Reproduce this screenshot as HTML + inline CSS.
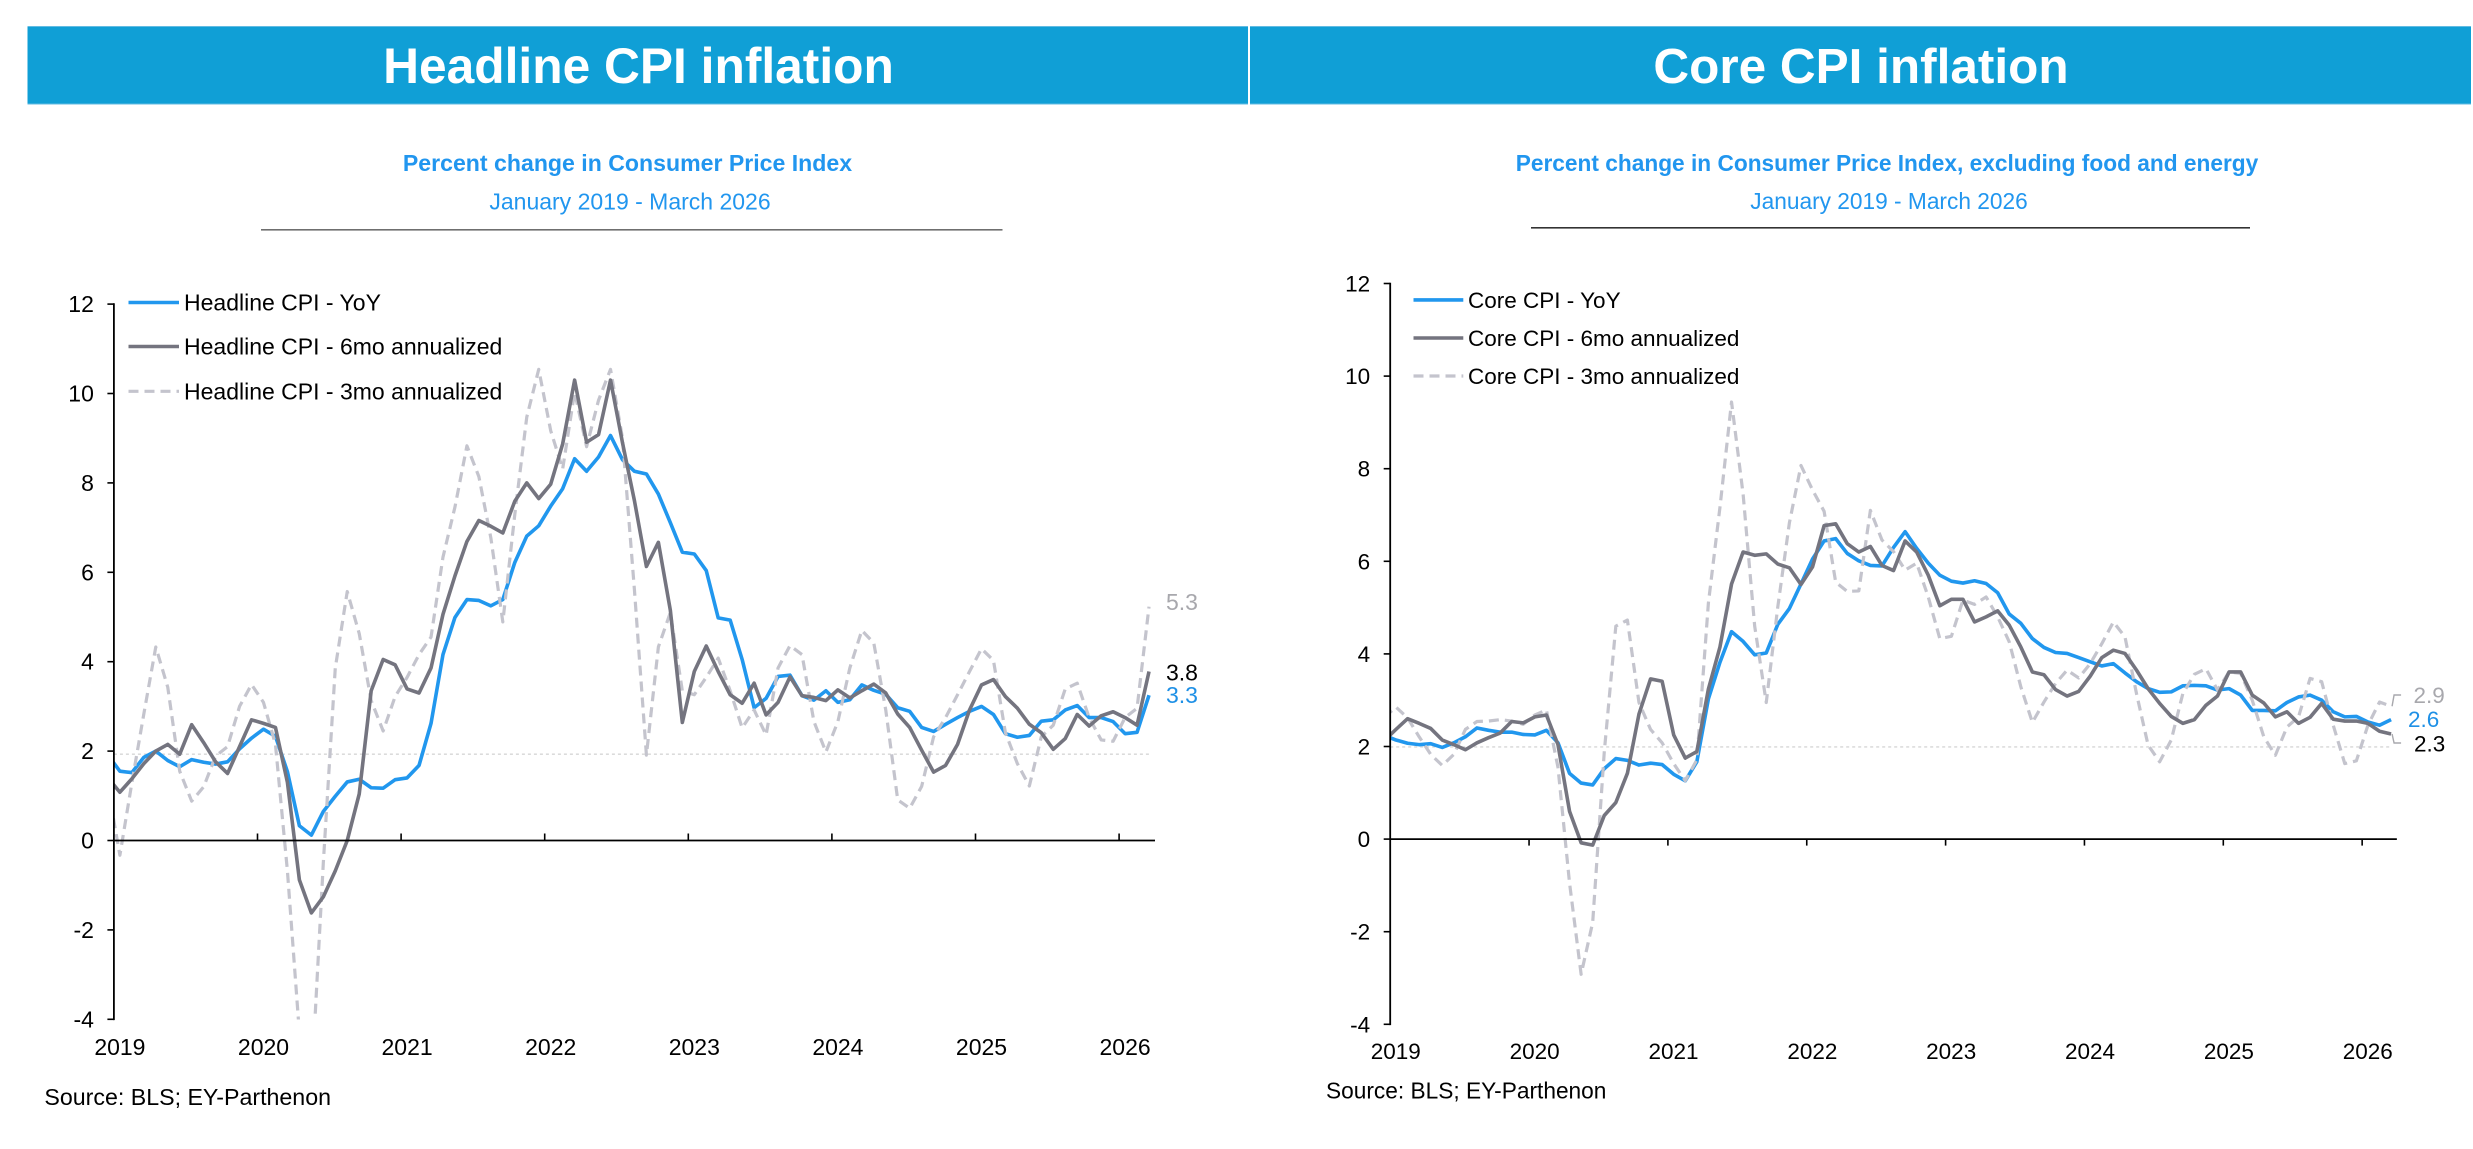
<!DOCTYPE html>
<html lang="en">
<head>
<meta charset="utf-8">
<title>Headline and Core CPI inflation</title>
<style>
html,body{margin:0;padding:0;background:#fff;width:2473px;height:1149px;overflow:hidden}
svg{display:block;font-family:"Liberation Sans",Arial,sans-serif}
</style>
</head>
<body>
<svg id="page" xmlns="http://www.w3.org/2000/svg" width="2473" height="1149" viewBox="0 0 2473 1149">
  <rect width="2473" height="1149" fill="#ffffff"/>

  <g>
    <rect x="27.5" y="26" width="1220.5" height="78.5" fill="#62bbe2"/>
    <rect x="27.5" y="27" width="1220.5" height="76.5" fill="#109fd6"/>
    <text x="638.5" y="83" text-anchor="middle" font-size="49.7" font-weight="700" fill="#ffffff">Headline CPI inflation</text>
  </g>
  <g>
    <rect x="1250" y="26" width="1221" height="78.5" fill="#62bbe2"/>
    <rect x="1250" y="27" width="1221" height="76.5" fill="#109fd6"/>
    <text x="1861" y="83" text-anchor="middle" font-size="49.5" font-weight="700" fill="#ffffff">Core CPI inflation</text>
  </g>

  <text x="627.5" y="171" text-anchor="middle" font-size="23.1" font-weight="700" fill="#2196ef">Percent change in Consumer Price Index</text>
  <text x="630" y="209.5" text-anchor="middle" font-size="23" fill="#2196ef">January 2019 - March 2026</text>
  <rect x="261" y="229" width="741.5" height="1.6" fill="#6f6f6f"/>

  <text x="1887" y="171" text-anchor="middle" font-size="22.7" font-weight="700" fill="#2196ef">Percent change in Consumer Price Index, excluding food and energy</text>
  <text x="1889" y="209" text-anchor="middle" font-size="22.7" fill="#2196ef">January 2019 - March 2026</text>
  <rect x="1531" y="227" width="719" height="1.6" fill="#333333"/>

  <defs>
    <clipPath id="clip-headline"><rect x="113.9" y="304" width="1041" height="715.5"/></clipPath>
    <clipPath id="clip-core"><rect x="1390.2" y="283" width="1006.6" height="741.3"/></clipPath>
  </defs>

  <g id="headline-chart"></g>
  <g id="core-chart"></g>

  <text x="44.4" y="1105" font-size="23.2" fill="#000000">Source: BLS; EY-Parthenon</text>
  <text x="1326" y="1098.7" font-size="22.7" fill="#000000">Source: BLS; EY-Parthenon</text>
</svg>

<script>
// Monthly series run December 2018 (clipped at the axis) through March 2026.
const yearLabels = ["2019","2020","2021","2022","2023","2024","2025","2026"];
const yTickValues = [-4,-2,0,2,4,6,8,10,12];

const headlineYoY = [1.91,
  1.55,1.52,1.86,2.0,1.79,1.65,1.81,1.75,1.71,1.76,2.05,2.29,
  2.49,2.33,1.54,0.33,0.12,0.65,0.99,1.31,1.37,1.18,1.17,1.36,
  1.40,1.68,2.62,4.16,4.99,5.39,5.37,5.25,5.39,6.22,6.81,7.04,
  7.48,7.87,8.54,8.26,8.58,9.06,8.52,8.26,8.20,7.75,7.11,6.45,
  6.41,6.04,4.98,4.93,4.05,2.97,3.18,3.67,3.70,3.24,3.14,3.35,
  3.09,3.15,3.48,3.36,3.27,2.97,2.89,2.53,2.44,2.60,2.75,2.89,
  3.00,2.82,2.39,2.31,2.35,2.67,2.70,2.92,3.02,2.75,2.75,2.66,
  2.39,2.42,3.25];
const headline6mo = [1.4,
  1.08,1.38,1.72,2.0,2.15,1.93,2.59,2.19,1.76,1.5,2.1,2.7,
  2.62,2.53,1.3,-0.88,-1.62,-1.26,-0.68,0,1.04,3.35,4.05,3.93,
  3.39,3.3,3.86,5.06,5.92,6.69,7.16,7.03,6.88,7.59,8.0,7.65,
  7.97,8.87,10.3,8.91,9.08,10.3,8.9,7.6,6.13,6.67,5.15,2.64,
  3.78,4.35,3.78,3.26,3.07,3.52,2.81,3.09,3.66,3.24,3.2,3.13,
  3.37,3.19,3.35,3.5,3.3,2.83,2.53,2.02,1.53,1.68,2.15,2.92,
  3.48,3.6,3.22,2.96,2.6,2.41,2.04,2.28,2.82,2.56,2.79,2.88,
  2.75,2.58,3.78];
const headline3mo = [1.2,
  -0.33,1.29,2.83,4.33,3.43,1.55,0.88,1.2,1.89,2.1,3.0,3.49,
  3.09,2.15,-0.68,-4.3,-5.5,-0.5,3.86,5.57,4.63,3.13,2.45,3.22,
  3.65,4.16,4.55,6.34,7.46,8.83,8.14,6.77,4.89,7.29,9.47,10.54,
  9.17,8.31,10.03,8.81,9.85,10.54,9.0,5.6,1.91,4.33,5.1,3.35,
  3.26,3.65,4.08,3.35,2.52,2.92,2.36,3.86,4.36,4.16,2.66,1.98,
  2.66,3.86,4.7,4.42,2.92,0.91,0.72,1.21,2.32,2.75,3.26,3.78,
  4.29,4.03,2.41,1.72,1.22,2.32,2.58,3.39,3.52,2.75,2.25,2.22,
  2.75,2.96,5.23];
const headlineTarget = [1.93];
const headlineEndLabels = ["3.3","3.8","5.3"];

const coreYoY = [2.24,
  2.14,2.07,2.04,2.06,1.98,2.08,2.21,2.4,2.35,2.31,2.31,2.26,
  2.25,2.35,2.08,1.42,1.21,1.17,1.52,1.74,1.7,1.6,1.64,1.61,
  1.4,1.26,1.67,3.03,3.82,4.48,4.27,3.98,4.02,4.64,4.98,5.51,
  6.05,6.44,6.49,6.17,6.01,5.91,5.9,6.3,6.64,6.28,5.96,5.7,
  5.57,5.53,5.58,5.52,5.32,4.86,4.66,4.33,4.14,4.03,4.01,3.92,
  3.83,3.74,3.79,3.59,3.4,3.25,3.17,3.18,3.31,3.32,3.31,3.22,
  3.25,3.11,2.78,2.78,2.77,2.95,3.07,3.11,3.0,2.75,2.64,2.65,
  2.53,2.46,2.58];
const core6mo = [2.13,
  2.37,2.6,2.5,2.39,2.14,2.04,1.93,2.08,2.19,2.29,2.54,2.51,
  2.64,2.68,2.04,0.6,-0.08,-0.13,0.51,0.79,1.42,2.7,3.46,3.41,
  2.25,1.75,1.89,3.24,4.15,5.51,6.2,6.13,6.16,5.94,5.86,5.5,
  5.88,6.77,6.81,6.38,6.2,6.32,5.91,5.8,6.44,6.2,5.7,5.04,
  5.18,5.18,4.69,4.8,4.93,4.62,4.15,3.61,3.55,3.23,3.09,3.19,
  3.52,3.92,4.08,4.01,3.65,3.25,2.93,2.65,2.5,2.58,2.89,3.09,
  3.61,3.61,3.11,2.94,2.64,2.75,2.5,2.63,2.93,2.59,2.55,2.55,
  2.5,2.33,2.27];
const core3mo = [2.63,
  2.85,2.62,2.21,1.83,1.59,1.83,2.37,2.54,2.55,2.58,2.55,2.48,
  2.68,2.79,1.55,-0.95,-2.92,-1.8,1.88,4.6,4.73,2.95,2.37,2.08,
  1.63,1.26,1.71,5.1,7.17,9.44,7.45,4.6,2.95,5.02,6.83,8.07,
  7.54,7.08,5.55,5.35,5.36,7.1,6.46,6.21,5.81,5.96,5.23,4.33,
  4.38,5.16,5.07,5.23,4.8,4.26,3.29,2.52,2.96,3.36,3.65,3.48,
  3.79,4.22,4.69,4.37,3.14,2.03,1.67,2.14,3.14,3.56,3.68,3.22,
  3.61,3.58,3.0,2.21,1.81,2.42,2.64,3.47,3.4,2.46,1.63,1.69,
  2.46,2.96,2.87];
const coreTarget = [1.99];
const coreEndLabels = ["2.6","2.3","2.9"];

const SVGNS = "http://www.w3.org/2000/svg";
const BLUE = "#2197ee", GREY = "#74747f", LIGHT = "#c4c4cd";
const LINE_W = 3.6, DASH_W = 3.2, DASH = "10 6";

function make(tag, attrs, parent){
  const el = document.createElementNS(SVGNS, tag);
  for (const k in attrs) el.setAttribute(k, attrs[k]);
  parent.appendChild(el);
  return el;
}

function drawChart(cfg){
  const root = document.getElementById(cfg.rootId);
  const x = i => cfg.axisX + (i - 0.5) * cfg.yearWidth / 12;
  const y = v => cfg.zeroY - v * cfg.unit;
  const axisEnd = cfg.axisX + 87 * cfg.yearWidth / 12;
  const pts = arr => arr.map((v, i) => x(i).toFixed(2) + "," + y(v).toFixed(2)).join(" ");

  const plot = make("g", {"clip-path": "url(#" + cfg.clipId + ")"}, root);
  
  

  const target = make("line", {x1: cfg.axisX, x2: x(cfg.yoy.length - 1), y1: y(cfg.target[0]), y2: y(cfg.target[0]), stroke: "#d6d6d6", "stroke-width": 1.4, "stroke-dasharray": "3 3"}, plot);
  
  

  const yoyLine = make("polyline", {points: pts(cfg.yoy), fill: "none", stroke: BLUE, "stroke-width": LINE_W, "stroke-linejoin": "round"}, plot);
  
  

  const threeLine = make("polyline", {points: pts(cfg.three), fill: "none", stroke: LIGHT, "stroke-width": DASH_W, "stroke-dasharray": DASH, "stroke-linejoin": "round"}, plot);
  
  

  const sixLine = make("polyline", {points: pts(cfg.six), fill: "none", stroke: GREY, "stroke-width": LINE_W, "stroke-linejoin": "round"}, plot);
  
  

  const yAxis = make("line", {x1: cfg.axisX, x2: cfg.axisX, y1: y(12) - 0.8, y2: y(-4) + 0.8, stroke: "#000", "stroke-width": 1.8}, root);
  
  

  const xAxis = make("line", {x1: cfg.axisX, x2: axisEnd, y1: y(0), y2: y(0), stroke: "#000", "stroke-width": 1.8}, root);
  
  

  yTickValues.forEach(v => {
    const tick = make("line", {x1: cfg.axisX - 6.5, x2: cfg.axisX, y1: y(v), y2: y(v), stroke: "#000", "stroke-width": 1.6}, root);
    
    
    const label = make("text", {x: cfg.axisX - 20, y: y(v) + cfg.tickDy, "text-anchor": "end", "font-size": cfg.font, fill: "#000"}, root);
    label.textContent = String(v);
    
    
  });

  yearLabels.forEach((yr, i) => {
    const xp = cfg.axisX + i * cfg.yearWidth;
    if (i > 0) {
      const tick = make("line", {x1: xp, x2: xp, y1: y(0) + cfg.xTickFrom, y2: y(0) + cfg.xTickTo, stroke: "#000", "stroke-width": 1.6}, root);
      
      
    }
    const label = make("text", {x: xp + cfg.yearDx, y: cfg.yearY, "text-anchor": "middle", "font-size": cfg.font, fill: "#000"}, root);
    label.textContent = yr;
    
    
  });

  cfg.legend.forEach((entry, i) => {
    const g = make("g", {}, root);
    
    
    const attrs = {x1: cfg.legendX, x2: cfg.legendX2, y1: cfg.legendY[i], y2: cfg.legendY[i], stroke: entry.color, "stroke-width": entry.dash ? DASH_W : LINE_W};
    if (entry.dash) attrs["stroke-dasharray"] = entry.dash;
    const swatch = make("line", attrs, g);
    
    
    const text = make("text", {x: cfg.legendTextX, y: cfg.legendY[i] + cfg.tickDy, "font-size": cfg.font, fill: "#000"}, g);
    text.textContent = entry.label;
    
    
  });

  cfg.endLabels.forEach((txt, i) => {
    const spec = cfg.endSpec[i];
    const label = make("text", {x: spec.x, y: spec.y, "font-size": cfg.font, fill: spec.color}, root);
    label.textContent = txt;
    
    
  });

  if (cfg.leaders) {
    const endX = x(cfg.yoy.length - 1);
    const upper = make("polyline", {points: (endX + 1) + "," + y(cfg.three[cfg.three.length - 1]) + " " + (endX + 3) + "," + cfg.leaders[0] + " " + (endX + 10) + "," + cfg.leaders[0], fill: "none", stroke: "#a8a8ad", "stroke-width": 1.4}, root);
    
    
    const lower = make("polyline", {points: (endX + 1) + "," + y(cfg.six[cfg.six.length - 1]) + " " + (endX + 3) + "," + cfg.leaders[1] + " " + (endX + 10) + "," + cfg.leaders[1], fill: "none", stroke: "#a8a8ad", "stroke-width": 1.4}, root);
    
    
  }
}

drawChart({
  rootId: "headline-chart", clipId: "clip-headline",
  axisX: 113.9, yearWidth: 143.6, zeroY: 840.5, unit: 44.7,
  yoy: headlineYoY, six: headline6mo, three: headline3mo, target: headlineTarget,
  font: 23, tickDy: 8, xTickFrom: -7, xTickTo: 0, yearDx: 6, yearY: 1055,
  legendX: 128.5, legendX2: 179, legendTextX: 184, legendY: [302.5, 346.5, 391.3],
  legend: [
    {label: "Headline CPI - YoY", color: BLUE},
    {label: "Headline CPI - 6mo annualized", color: GREY},
    {label: "Headline CPI - 3mo annualized", color: LIGHT, dash: DASH}
  ],
  endLabels: headlineEndLabels,
  endSpec: [{x: 1166, y: 702.8, color: "#1e90e6"}, {x: 1166, y: 680.6, color: "#000"}, {x: 1166, y: 609.8, color: "#a8a8ad"}]
});

drawChart({
  rootId: "core-chart", clipId: "clip-core",
  axisX: 1390.2, yearWidth: 138.85, zeroY: 839.1, unit: 46.3,
  yoy: coreYoY, six: core6mo, three: core3mo, target: coreTarget,
  font: 22.5, tickDy: 8, xTickFrom: 0, xTickTo: 6.5, yearDx: 5.6, yearY: 1059,
  legendX: 1413.5, legendX2: 1463.3, legendTextX: 1468, legendY: [299.9, 338, 376],
  legend: [
    {label: "Core CPI - YoY", color: BLUE},
    {label: "Core CPI - 6mo annualized", color: GREY},
    {label: "Core CPI - 3mo annualized", color: LIGHT, dash: DASH}
  ],
  endLabels: coreEndLabels,
  endSpec: [{x: 2408, y: 727, color: "#1e90e6"}, {x: 2414, y: 751.3, color: "#000"}, {x: 2413.5, y: 703, color: "#a8a8ad"}],
  leaders: [695, 743]
});
</script>
</body>
</html>
